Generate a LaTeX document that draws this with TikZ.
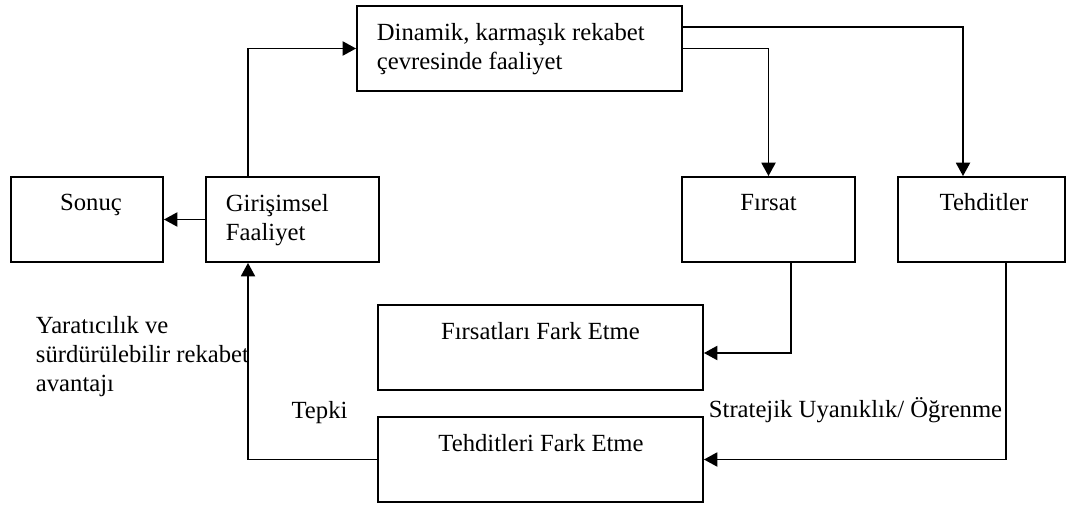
\documentclass[tikz,border=0pt]{standalone}
\usepackage{fontspec}
\setmainfont{Liberation Serif}
\usepackage{tikz}
\usetikzlibrary{arrows.meta}

\tikzset{
  box/.style={draw, line width=1.4pt, minimum height=63.75pt, inner sep=0pt},
  txt/.style={inner sep=0pt, font=\fontsize{18.5}{21.75}\selectfont},
}

\begin{document}
\begin{tikzpicture}[x=0.75pt, y=-0.75pt, line width=1.4pt, >={Triangle[length=10pt,width=10.5pt]}]
          \useasboundingbox (0,0) rectangle (1067,506);
          % Dinamik rekabet cevresi
          \node[box, minimum width=243.75pt] (dyn) at (519.5,48.5) {};
          \node[txt, anchor=north west, align=left] (dynT) at (376,22) {Dinamik, karmaşık rekabet\\çevresinde faaliyet};
          % Sonuc
          \node[box, minimum width=114pt] (sonuc) at (87,219.5) {};
          \node[txt, anchor=base] (sonucT) at (91,210) {Sonuç};
          % Girisimsel faaliyet
          \node[box, minimum width=129.75pt] (girisim) at (292.5,219.5) {};
          \node[txt, anchor=north west, align=left] (girisimT) at (225,193) {Girişimsel\\Faaliyet};
          % Firsat
          \node[box, minimum width=129.75pt] (firsat) at (768.5,219.5) {};
          \node[txt, anchor=base] (firsatT) at (768.5,210) {Fırsat};
          % Tehditler
          \node[box, minimum width=125.25pt] (tehdit) at (981.5,219.5) {};
          \node[txt, anchor=base] (tehditT) at (984,210) {Tehditler};
          % Firsatlari fark etme
          \node[box, minimum width=243.75pt] (firsatFark) at (540.5,347.5) {};
          \node[txt, anchor=base] (firsatFarkT) at (540.5,339) {Fırsatları Fark Etme};
          % Tehditleri fark etme
          \node[box, minimum width=243.75pt] (tehditFark) at (540.5,459.5) {};
          \node[txt, anchor=base] (tehditFarkT) at (541,451) {Tehditleri Fark Etme};
          % serbest etiketler
          \node[txt, anchor=north west, align=left] (yaratT) at (35,315) {Yaratıcılık ve\\sürdürülebilir rekabet\\avantajı};
          \node[txt, anchor=base] (tepkiT) at (319.5,418) {Tepki};
          \node[txt, anchor=base west] (stratT) at (708,417) {Stratejik Uyanıklık/ Öğrenme};
          % line between girisim and dinamik
          \draw [->] (girisim.north -| 248,0) |- (dyn.west);
          % line between dinamik and tehditler
          \draw [->] (dyn.east |- 0,27) -| (tehdit.north -| 963,0);
          % line between dinamik and firsat
          \draw [->] (dyn.east) -| (firsat.north);
          % line between girisim and sonuc
          \draw [->] (girisim.west) -- (sonuc.east);
          % line between firsat and firsatlari fark etme
          \draw [->] (firsat.south -| 791,0) |- (firsatFark.east |- 0,353);
          % line between tehditler and tehditleri fark etme
          \draw [->] (tehdit.south -| 1006,0) |- (tehditFark.east);
          % line between tehditleri fark etme and girisim
          \draw [->] (tehditFark.west) -| (girisim.south -| 248,0);
        \end{tikzpicture}
\end{document}
